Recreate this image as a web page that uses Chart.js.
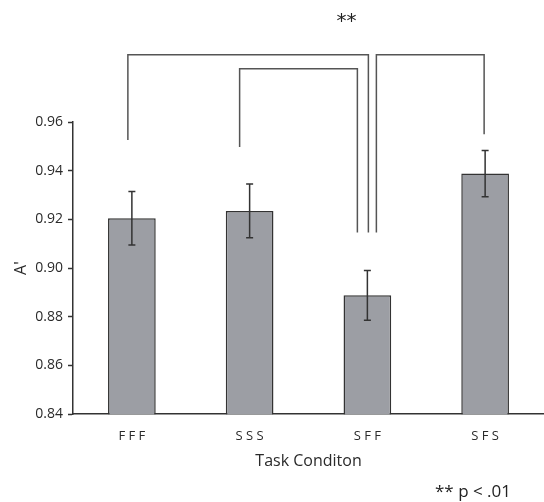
<!DOCTYPE html>
<html>
<head>
<meta charset="utf-8">
<script src="https://cdn.jsdelivr.net/npm/chart.js@4"></script>
<style>
  html, body { margin: 0; padding: 0; background: #fff; }
  #wrap { width: 544px; height: 502px; }
</style>
</head>
<body>
<div id="wrap"><canvas id="chartA"></canvas></div>
<script>
// data
const conditions = ["FFF", "SSS", "SFF", "SFS"];
const aPrime = [0.9205, 0.9235, 0.8888, 0.9388];
const aPrimeErr = [0.011, 0.011, 0.0102, 0.0095];
const yTicks = [0.84, 0.86, 0.88, 0.90, 0.92, 0.94, 0.96];

// significance brackets: [from category, to category, bar level, leg end from, leg end to]
const brackets = [
    [0, 2, 0.9876, 0.9526, 0.9146],
    [1, 2, 0.9819, 0.9497, 0.9146],
    [2, 3, 0.9876, 0.9146, 0.9550],
];
const legShift = [[-4, 1], [-10, -10], [9, -1]];

const ink = '#333';

const errorBars = {
    id: 'errorBars',
    afterDatasetsDraw(chart) {
        const { ctx, scales: { x, y } } = chart;
        ctx.save();
        ctx.strokeStyle = ink;
        ctx.lineWidth = 1.5;
        aPrime.forEach((v, i) => {
            const px = x.getPixelForValue(i);
            const top = y.getPixelForValue(v + aPrimeErr[i]);
            const bot = y.getPixelForValue(v - aPrimeErr[i]);
            ctx.beginPath();
            ctx.moveTo(px, top); ctx.lineTo(px, bot);
            ctx.moveTo(px - 3.5, top); ctx.lineTo(px + 3.5, top);
            ctx.moveTo(px - 3.5, bot); ctx.lineTo(px + 3.5, bot);
            ctx.stroke();
        });
        ctx.restore();
    }
};

const sigMarks = {
    id: 'sigMarks',
    afterDraw(chart) {
        const { ctx, scales: { x, y } } = chart;
        ctx.save();
        ctx.strokeStyle = '#555';
        ctx.lineWidth = 1.5;
        brackets.forEach((b, k) => {
            const x1 = x.getPixelForValue(b[0]) + legShift[k][0];
            const x2 = x.getPixelForValue(b[1]) + legShift[k][1];
            const yb = y.getPixelForValue(b[2]);
            ctx.beginPath();
            ctx.moveTo(x1, y.getPixelForValue(b[3]));
            ctx.lineTo(x1, yb);
            ctx.lineTo(x2, yb);
            ctx.lineTo(x2, y.getPixelForValue(b[4]));
            ctx.stroke();
        });
        ctx.fillStyle = '#222';
        ctx.font = '20px "DejaVu Sans"';
        ctx.textAlign = 'center';
        ctx.textBaseline = 'middle';
        ctx.fillText('**', x.getPixelForValue(2) - 21, 22);
        ctx.font = '17px "Open Sans"';
        ctx.textAlign = 'right';
        ctx.fillText('** p < .01', 511, 492);
        ctx.restore();
    }
};

new Chart(document.getElementById('chartA'), {
    type: 'bar',
    data: {
        labels: conditions,
        datasets: [{
            data: aPrime,
            backgroundColor: '#9c9ea4',
            borderColor: ink,
            borderWidth: 1.5,
            borderSkipped: 'bottom',
            categoryPercentage: 1,
            barPercentage: 0.405,
        }],
    },
    options: {
        responsive: true,
        maintainAspectRatio: false,
        animation: false,
        layout: { padding: { top: 122, right: 0, bottom: 31, left: 0 } },
        plugins: {
            legend: { display: false },
            tooltip: { enabled: false },
        },
        scales: {
            x: {
                grid: { display: false, drawTicks: false },
                border: { display: true, color: ink, width: 1.5 },
                ticks: {
                    color: '#2a2a2a',
                    padding: 14,
                    font: { family: 'Open Sans', size: 13 },
                    callback: (v, i) => conditions[i].split('').join(' '),
                },
                title: {
                    display: true,
                    text: 'Task Conditon',
                    color: '#2a2a2a',
                    font: { family: 'Open Sans', size: 16 },
                    padding: { top: -6, bottom: 0 },
                },
            },
            y: {
                min: 0.84,
                max: 0.96,
                afterBuildTicks: (scale) => { scale.ticks = yTicks.map(v => ({ value: v })); },
                afterFit: (scale) => { scale.width = 73; },
                grid: { drawOnChartArea: false, drawTicks: true, tickLength: 5, tickColor: ink, tickWidth: 1.5 },
                border: { display: true, color: ink, width: 1.5 },
                ticks: {
                    color: '#2a2a2a',
                    padding: 5,
                    font: { family: 'Open Sans', size: 14 },
                    callback: (v) => v.toFixed(2),
                },
                title: {
                    display: true,
                    text: "A'",
                    color: '#2a2a2a',
                    font: { family: 'Open Sans', size: 16 },
                    padding: { top: 12, bottom: 0 },
                },
            },
        },
    },
    plugins: [errorBars, sigMarks],
});
</script>
</body>
</html>
